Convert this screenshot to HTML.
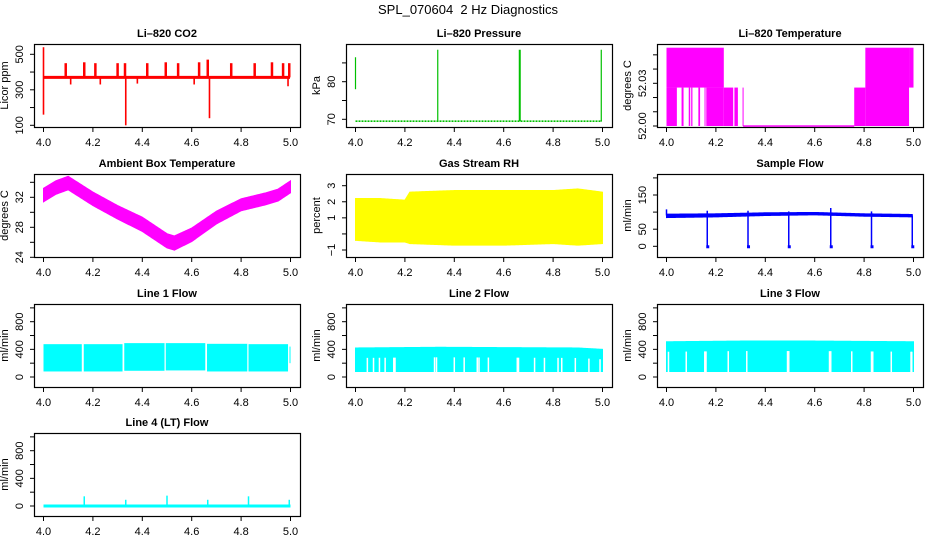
<!DOCTYPE html>
<html><head><meta charset="utf-8">
<style>
html,body{margin:0;padding:0;background:#fff;}
svg{display:block;font-family:"Liberation Sans",sans-serif;}
.tl{font-size:11px;fill:#000;}
.pt{font-size:11px;font-weight:bold;fill:#000;}
</style></head>
<body>
<svg id="c" width="936" height="540" viewBox="0 0 936 540">
<text x="468" y="14" text-anchor="middle" style="font-size:13px">SPL_070604&#160; 2 Hz Diagnostics</text>
</svg>
<script>
// ---- data ----
const xTicks = [4.0, 4.2, 4.4, 4.6, 4.8, 5.0];
const xTickLabels = ["4.0", "4.2", "4.4", "4.6", "4.8", "5.0"];
// CO2
const co2Base = 370;
const co2SpikeT = [4.09,4.165,4.21,4.30,4.33,4.42,4.495,4.545,4.63,4.665,4.76,4.855,4.925,4.97,4.995];
const co2SpikeV = [450,455,450,450,450,450,455,450,455,470,450,450,455,450,450];
const co2DipT = [4.0,4.333,4.672,4.11,4.23,4.38,4.61,4.99];
const co2DipLo = [160,100,140,330,330,335,330,320];
const co2DipHi = [540,370,370,370,370,370,370,370];
// Pressure
const presBase = 69.5;
const presSpikeT = [4.0,4.333,4.665,4.995];
const presSpikeLo = [78,69.5,69.5,69.5];
const presSpikeHi = [86.5,88.5,88.5,88.5];
// Li-820 temperature blocks
const tempT0 = [4.0,4.0,4.061,4.090,4.100,4.129,4.154,4.161,4.232,4.275,4.308,4.31,4.76,4.805,4.982];
const tempT1 = [4.042,4.232,4.069,4.096,4.105,4.136,4.158,4.232,4.270,4.289,4.312,4.76,4.805,4.982,5.0];
const tempLo = [52.0,52.027,52.0,52.0,52.0,52.0,52.0,52.0,52.0,52.0,52.0,52.0,52.0,52.0,52.027];
const tempHi = [52.027,52.055,52.027,52.027,52.027,52.027,52.027,52.027,52.027,52.027,52.027,52.0005,52.027,52.055,52.055];
// Ambient box temperature (center of noisy band)
const ambT = [4.0,4.05,4.1,4.2,4.3,4.4,4.5,4.53,4.6,4.7,4.8,4.9,4.95,5.0];
const ambV = [32.3,33.3,33.9,31.8,30.0,28.4,26.2,25.9,27.0,29.3,31.0,31.8,32.3,33.4];
const ambHalf = [0.9,0.9,0.9,0.9,0.9,0.95,0.95,0.95,0.9,0.85,0.8,0.8,0.8,0.8];
// Gas stream RH band
const rhT = [4.0,4.1,4.2,4.22,4.4,4.6,4.8,4.9,5.0];
const rhHi = [2.2,2.2,2.1,2.6,2.7,2.7,2.7,2.8,2.6];
const rhLo = [-0.4,-0.5,-0.5,-0.6,-0.7,-0.7,-0.6,-0.7,-0.6];
// Sample flow
const sfT = [4.0,4.2,4.4,4.6,4.8,5.0];
const sfLo = [84,86,90,92,88,86];
const sfHi = [94,95,98,99,95,93];
const sfDipT = [4.165,4.33,4.495,4.665,4.83,4.995];
const sfSpikeT = [4.0,4.665,4.165,4.33,4.495,4.83];
const sfSpikeV = [108,112,104,104,102,102];
// Line flows: segments
const l1T0 = [4.0,4.163,4.327,4.495,4.662,4.830,4.996];
const l1T1 = [4.155,4.320,4.490,4.655,4.825,4.990,5.0];
const l1Lo = [80,80,90,95,80,80,200];
const l1Hi = [475,475,490,490,480,475,440];
const l2Lo = [80,80,80,80];
const l2T = [4.0,4.34,4.9,5.0];
const l2Hi = [420,430,420,400];
const l2Gaps = [4.048,4.073,4.097,4.12,4.155,4.16,4.32,4.328,4.4,4.44,4.493,4.5,4.538,4.655,4.66,4.725,4.765,4.82,4.835,4.89,4.945,4.99];
const l3T = [4.0,4.3,4.6,5.0];
const l3Hi = [510,520,520,510];
const l3Lo = [80,80,80,80];
const l3Gaps = [4.008,4.08,4.155,4.16,4.25,4.325,4.49,4.495,4.66,4.665,4.75,4.83,4.835,4.91,4.99,4.993];
// Line 4
const l4SpikeT = [4.165,4.333,4.5,4.665,4.83,4.995];
const l4SpikeV = [140,90,150,90,140,90];

// ---- layout ----
const svg = document.getElementById('c');
const NS = 'http://www.w3.org/2000/svg';
const colL = [34,346,657], rowT = [44,174,304,433], BW=266, BH=83;
function el(tag, attrs, parent){const e=document.createElementNS(NS,tag);for(const k in attrs)e.setAttribute(k,attrs[k]);(parent||svg).appendChild(e);return e;}
function interp(ts,vs,t){if(t<=ts[0])return vs[0];for(let i=1;i<ts.length;i++){if(t<=ts[i]){const f=(t-ts[i-1])/(ts[i]-ts[i-1]);return vs[i-1]+f*(vs[i]-vs[i-1]);}}return vs[vs.length-1];}

function panel(name,c,r,title,ylab,v0,p0,v1,p1,yt,ytl){
  const L=colL[c], T=rowT[r];
  const g=el('g',{});
  
  
  const X=t=>L+9.5+(t-4)*247;
  const Y=v=>T+p0+(v-v0)*(p1-p0)/(v1-v0);
  const cid='clip'+name;
  const cp=el('clipPath',{id:cid},g); el('rect',{x:L,y:T,width:BW,height:BH},cp);
  const plot=el('g',{'clip-path':'url(#'+cid+')'},g);
  
  
  const box=el('rect',{x:L+0.5,y:T+0.5,width:BW,height:BH,fill:'none',stroke:'#000','stroke-width':1.2},g);
  
  
  const tt=el('text',{x:L+BW/2,y:T-7,'text-anchor':'middle',class:'pt'},g); tt.textContent=title;
  
  
  const xa=el('g',{},g);
  
  
  xTicks.forEach((t,i)=>{const x=X(t);el('line',{x1:x,y1:T+BH,x2:x,y2:T+BH+5,stroke:'#000'},xa);
    const lb=el('text',{x:x,y:T+BH+19,'text-anchor':'middle',class:'tl'},xa);lb.textContent=xTickLabels[i];});
  const ya=el('g',{},g);
  
  
  yt.forEach((v,i)=>{const y=Y(v);el('line',{x1:L-4,y1:y,x2:L,y2:y,stroke:'#000'},ya);
    if(ytl[i]!==''){const lb=el('text',{x:L-11,y:y,'text-anchor':'middle',class:'tl',transform:'rotate(-90 '+(L-11)+' '+y+')'},ya);lb.textContent=ytl[i];}});
  const yl=el('text',{x:L-26,y:T+BH/2,'text-anchor':'middle',class:'tl',transform:'rotate(-90 '+(L-26)+' '+(T+BH/2)+')'},g);yl.textContent=ylab;
  
  
  return {X,Y,plot};
}
function vline(p,x,y1,y2,col,w){const l=el('line',{x1:x,y1:y1,x2:x,y2:y2,stroke:col,'stroke-width':w||1.2},p);return l;}

// CO2
(()=>{const {X,Y,plot}=panel('co2',0,0,'Li\u2013820 CO2','Licor ppm',100,81.3,500,10.3,[100,200,300,400,500],['100','','300','','500']);
  const b=el('line',{x1:X(4.0),y1:Y(co2Base),x2:X(4.998),y2:Y(co2Base),stroke:'#f00','stroke-width':3},plot);
  
  co2SpikeT.forEach((t,i)=>{const s=vline(plot,X(t),Y(co2Base),Y(co2SpikeV[i]),'#f00',2.5);
    });
  co2DipT.forEach((t,i)=>{const s=vline(plot,X(t),Y(co2DipHi[i]),Y(co2DipLo[i]),'#f00',1.6);
    });
})();
// Pressure
(()=>{const {X,Y,plot}=panel('pressure',1,0,'Li\u2013820 Pressure','kPa',70,75.3,80,37.7,[70,75,80,85],['70','','80','']);
  const b=el('line',{x1:X(4.0),y1:Y(presBase),x2:X(4.998),y2:Y(presBase),stroke:'#00c000','stroke-width':1.6,'stroke-dasharray':'2 1'},plot);
  
  presSpikeT.forEach((t,i)=>{const s=vline(plot,X(t),Y(presSpikeLo[i]),Y(presSpikeHi[i]),'#00c000',i==2?2:1.2);
    });
})();
// Li-820 temperature
(()=>{const {X,Y,plot}=panel('li820-temp',2,0,'Li\u2013820 Temperature','degrees C',52.00,82,52.03,39.3,[52.00,52.01,52.02,52.03,52.04,52.05],['52.00','','','52.03','','']);
  tempT0.forEach((t,i)=>{const x0=X(t),x1=X(tempT1[i]);const y0=Y(tempHi[i]),y1=Y(tempLo[i]);
    const r=el('rect',{x:x0,y:y0,width:Math.max(1,x1-x0),height:Math.max(1.5,y1-y0),fill:'#f0f'},plot);
    });
})();
// Ambient
(()=>{const {X,Y,plot}=panel('ambient-temp',0,1,'Ambient Box Temperature','degrees C',24,83.3,32,23.3,[24,26,28,30,32,34],['24','','28','','32','']);
  let up=[],dn=[];for(let t=4.0;t<=5.0001;t+=0.005){const v=interp(ambT,ambV,t),h=interp(ambT,ambHalf,t);up.push(X(t)+','+Y(v+h));dn.unshift(X(t)+','+Y(v-h));}
  const p=el('polygon',{points:up.concat(dn).join(' '),fill:'#f0f',stroke:'#f0f','stroke-width':1},plot);
  
})();
// RH
(()=>{const {X,Y,plot}=panel('gas-rh',1,1,'Gas Stream RH','percent',3,11.7,-1,76,[-1,0,1,2,3],['\u22121','','1','2','3']);
  let up=[],dn=[];for(let t=4.0;t<=5.0001;t+=0.005){up.push(X(t)+','+Y(interp(rhT,rhHi,t)));dn.unshift(X(t)+','+Y(interp(rhT,rhLo,t)));}
  const p=el('polygon',{points:up.concat(dn).join(' '),fill:'#ff0',stroke:'#ff0'},plot);
  
})();
// Sample flow
(()=>{const {X,Y,plot}=panel('sample-flow',2,1,'Sample Flow','ml/min',0,72.3,150,21,[0,50,100,150,200],['0','50','','150','']);
  let up=[],dn=[];for(let t=4.0;t<=4.997;t+=0.005){up.push(X(t)+','+Y(interp(sfT,sfHi,t)));dn.unshift(X(t)+','+Y(interp(sfT,sfLo,t)));}
  const p=el('polygon',{points:up.concat(dn).join(' '),fill:'#00f',stroke:'#00f'},plot);
  
  sfDipT.forEach(t=>{const s=vline(plot,X(t),Y(90),Y(0),'#00f',1.5);
    const d=el('rect',{x:X(t)-1,y:Y(3),width:3,height:3,fill:'#00f'},plot);});
  sfSpikeT.forEach((t,i)=>{const s=vline(plot,X(t),Y(90),Y(sfSpikeV[i]),'#00f',1.5);});
})();
// Line 1
const flowTicks=[0,200,400,600,800,1000], flowLabels=['0','','400','','800',''];
(()=>{const {X,Y,plot}=panel('line1-flow',0,2,'Line 1 Flow','ml/min',0,73,800,17.7,flowTicks,flowLabels);
  l1T0.forEach((t,i)=>{const r=el('rect',{x:X(t),y:Y(l1Hi[i]),width:X(l1T1[i])-X(t),height:Y(l1Lo[i])-Y(l1Hi[i]),fill:'#0ff'},plot);
    });
})();
function gapBand(name,c,title,ts,his,los,gaps){
  const {X,Y,plot}=panel(name,c,2,title,'ml/min',0,73,800,17.7,flowTicks,flowLabels);
  let up=[],dn=[];for(let t=4.0;t<=5.0001;t+=0.005){up.push(X(t)+','+Y(interp(ts,his,t)));dn.unshift(X(t)+','+Y(interp(ts,los,t)));}
  const p=el('polygon',{points:up.concat(dn).join(' '),fill:'#0ff',stroke:'#0ff'},plot);
  
  gaps.forEach(t=>{const g=el('line',{x1:X(t),y1:Y(interp(ts,his,t))+10,x2:X(t),y2:Y(60),stroke:'#fff','stroke-width':1.5},plot);
    });
}
gapBand('line2-flow',1,'Line 2 Flow',l2T,l2Hi,l2Lo,l2Gaps);
gapBand('line3-flow',2,'Line 3 Flow',l3T,l3Hi,l3Lo,l3Gaps);
// Line 4
(()=>{const {X,Y,plot}=panel('line4-flow',0,3,'Line 4 (LT) Flow','ml/min',0,73,800,17.7,flowTicks,flowLabels);
  const b=el('line',{x1:X(4.0),y1:Y(0),x2:X(5.0),y2:Y(0),stroke:'#0ff','stroke-width':3},plot);
  
  l4SpikeT.forEach((t,i)=>{const s=vline(plot,X(t),Y(0),Y(l4SpikeV[i]),'#0ff',1.5);});
})();
</script>
</body></html>
